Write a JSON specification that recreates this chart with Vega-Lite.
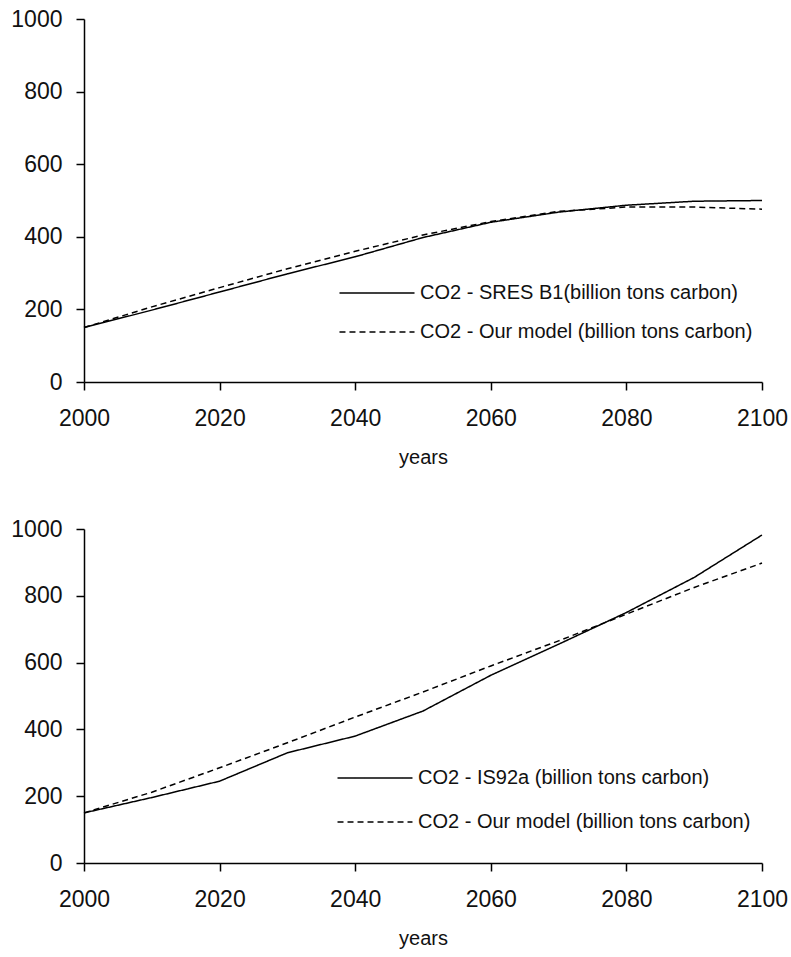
{
  "$schema": "https://vega.github.io/schema/vega-lite/v6.json",
  "background": "white",
  "padding": {"left": 10, "top": 8, "right": 5, "bottom": 5},
  "spacing": 51,
  "config": {
    "view": {"stroke": null},
    "font": "Liberation Sans",
    "axis": {
      "grid": false,
      "domainColor": "black",
      "domainWidth": 1.5,
      "tickColor": "black",
      "tickWidth": 1.5,
      "tickSize": 8,
      "labelFont": "Liberation Sans",
      "labelFontSize": 23,
      "labelColor": "#111",
      "titleFont": "Liberation Sans",
      "titleFontSize": 20,
      "titleFontWeight": "normal",
      "titleColor": "#111"
    },
    "axisX": {"labelPadding": 17, "titlePadding": 17, "labelFlush": false},
    "axisY": {"labelPadding": 14},
    "legend": {
      "title": null,
      "orient": "none",
      "padding": 0,
      "symbolStrokeWidth": 1.5,
      "symbolStrokeColor": "black",
      "labelFont": "Liberation Sans",
      "labelFontSize": 20,
      "labelColor": "#111",
      "labelLimit": 500
    }
  },
  "datasets": {
    "b1": [
      {"year": 2000, "series": "CO2 - SRES B1(billion tons carbon)", "value": 150},
      {"year": 2010, "series": "CO2 - SRES B1(billion tons carbon)", "value": 198},
      {"year": 2020, "series": "CO2 - SRES B1(billion tons carbon)", "value": 248},
      {"year": 2030, "series": "CO2 - SRES B1(billion tons carbon)", "value": 298},
      {"year": 2040, "series": "CO2 - SRES B1(billion tons carbon)", "value": 345},
      {"year": 2050, "series": "CO2 - SRES B1(billion tons carbon)", "value": 398},
      {"year": 2060, "series": "CO2 - SRES B1(billion tons carbon)", "value": 440},
      {"year": 2070, "series": "CO2 - SRES B1(billion tons carbon)", "value": 468},
      {"year": 2080, "series": "CO2 - SRES B1(billion tons carbon)", "value": 487},
      {"year": 2090, "series": "CO2 - SRES B1(billion tons carbon)", "value": 498},
      {"year": 2100, "series": "CO2 - SRES B1(billion tons carbon)", "value": 500},
      {"year": 2000, "series": "CO2 - Our model (billion tons carbon)", "value": 150},
      {"year": 2010, "series": "CO2 - Our model (billion tons carbon)", "value": 207},
      {"year": 2020, "series": "CO2 - Our model (billion tons carbon)", "value": 260},
      {"year": 2030, "series": "CO2 - Our model (billion tons carbon)", "value": 312},
      {"year": 2040, "series": "CO2 - Our model (billion tons carbon)", "value": 360},
      {"year": 2050, "series": "CO2 - Our model (billion tons carbon)", "value": 405},
      {"year": 2060, "series": "CO2 - Our model (billion tons carbon)", "value": 442},
      {"year": 2070, "series": "CO2 - Our model (billion tons carbon)", "value": 470},
      {"year": 2080, "series": "CO2 - Our model (billion tons carbon)", "value": 482},
      {"year": 2090, "series": "CO2 - Our model (billion tons carbon)", "value": 482},
      {"year": 2100, "series": "CO2 - Our model (billion tons carbon)", "value": 476}
    ],
    "is92a": [
      {"year": 2000, "series": "CO2 - IS92a (billion tons carbon)", "value": 150},
      {"year": 2010, "series": "CO2 - IS92a (billion tons carbon)", "value": 196},
      {"year": 2020, "series": "CO2 - IS92a (billion tons carbon)", "value": 245},
      {"year": 2030, "series": "CO2 - IS92a (billion tons carbon)", "value": 330},
      {"year": 2040, "series": "CO2 - IS92a (billion tons carbon)", "value": 380},
      {"year": 2050, "series": "CO2 - IS92a (billion tons carbon)", "value": 455},
      {"year": 2060, "series": "CO2 - IS92a (billion tons carbon)", "value": 562},
      {"year": 2070, "series": "CO2 - IS92a (billion tons carbon)", "value": 655},
      {"year": 2080, "series": "CO2 - IS92a (billion tons carbon)", "value": 750},
      {"year": 2090, "series": "CO2 - IS92a (billion tons carbon)", "value": 855},
      {"year": 2100, "series": "CO2 - IS92a (billion tons carbon)", "value": 982},
      {"year": 2000, "series": "CO2 - Our model (billion tons carbon)", "value": 150},
      {"year": 2010, "series": "CO2 - Our model (billion tons carbon)", "value": 212},
      {"year": 2020, "series": "CO2 - Our model (billion tons carbon)", "value": 285},
      {"year": 2030, "series": "CO2 - Our model (billion tons carbon)", "value": 360},
      {"year": 2040, "series": "CO2 - Our model (billion tons carbon)", "value": 437},
      {"year": 2050, "series": "CO2 - Our model (billion tons carbon)", "value": 512},
      {"year": 2060, "series": "CO2 - Our model (billion tons carbon)", "value": 590},
      {"year": 2070, "series": "CO2 - Our model (billion tons carbon)", "value": 665},
      {"year": 2080, "series": "CO2 - Our model (billion tons carbon)", "value": 745},
      {"year": 2090, "series": "CO2 - Our model (billion tons carbon)", "value": 825},
      {"year": 2100, "series": "CO2 - Our model (billion tons carbon)", "value": 898}
    ]
  },
  "resolve": {"scale": {"strokeDash": "independent"}, "legend": {"strokeDash": "independent"}},
  "vconcat": [
    {
      "width": 678,
      "height": 363,
      "data": {"name": "b1"},
      "mark": {"type": "line", "color": "black", "strokeWidth": 1.5},
      "encoding": {
        "x": {"field": "year", "type": "quantitative", "scale": {"domain": [2000, 2100], "nice": false, "zero": false},
              "axis": {"values": [2000, 2020, 2040, 2060, 2080, 2100], "format": "d", "title": "years"}},
        "y": {"field": "value", "type": "quantitative", "scale": {"domain": [0, 1000], "nice": false},
              "axis": {"values": [0, 200, 400, 600, 800, 1000], "format": "d", "title": null}},
        "strokeDash": {"field": "series", "type": "nominal",
          "scale": {"domain": ["CO2 - SRES B1(billion tons carbon)", "CO2 - Our model (billion tons carbon)"], "range": [[1, 0], [6, 4]]},
          "legend": {"legendX": 264, "legendY": 245, "rowPadding": 0, "symbolType": "M-1.34,0H1.34", "symbolSize": 3136, "labelOffset": 14}}
      }
    },
    {
      "width": 678,
      "height": 334,
      "data": {"name": "is92a"},
      "mark": {"type": "line", "color": "black", "strokeWidth": 1.5},
      "encoding": {
        "x": {"field": "year", "type": "quantitative", "scale": {"domain": [2000, 2100], "nice": false, "zero": false},
              "axis": {"values": [2000, 2020, 2040, 2060, 2080, 2100], "format": "d", "title": "years"}},
        "y": {"field": "value", "type": "quantitative", "scale": {"domain": [0, 1000], "nice": false},
              "axis": {"values": [0, 200, 400, 600, 800, 1000], "format": "d", "title": null}},
        "strokeDash": {"field": "series", "type": "nominal",
          "scale": {"domain": ["CO2 - IS92a (billion tons carbon)", "CO2 - Our model (billion tons carbon)"], "range": [[1, 0], [6, 4]]},
          "legend": {"legendX": 257, "legendY": 215, "rowPadding": 0, "symbolType": "M-1.136,0H1.136", "symbolSize": 4356, "labelOffset": 9}}
      }
    }
  ]
}
